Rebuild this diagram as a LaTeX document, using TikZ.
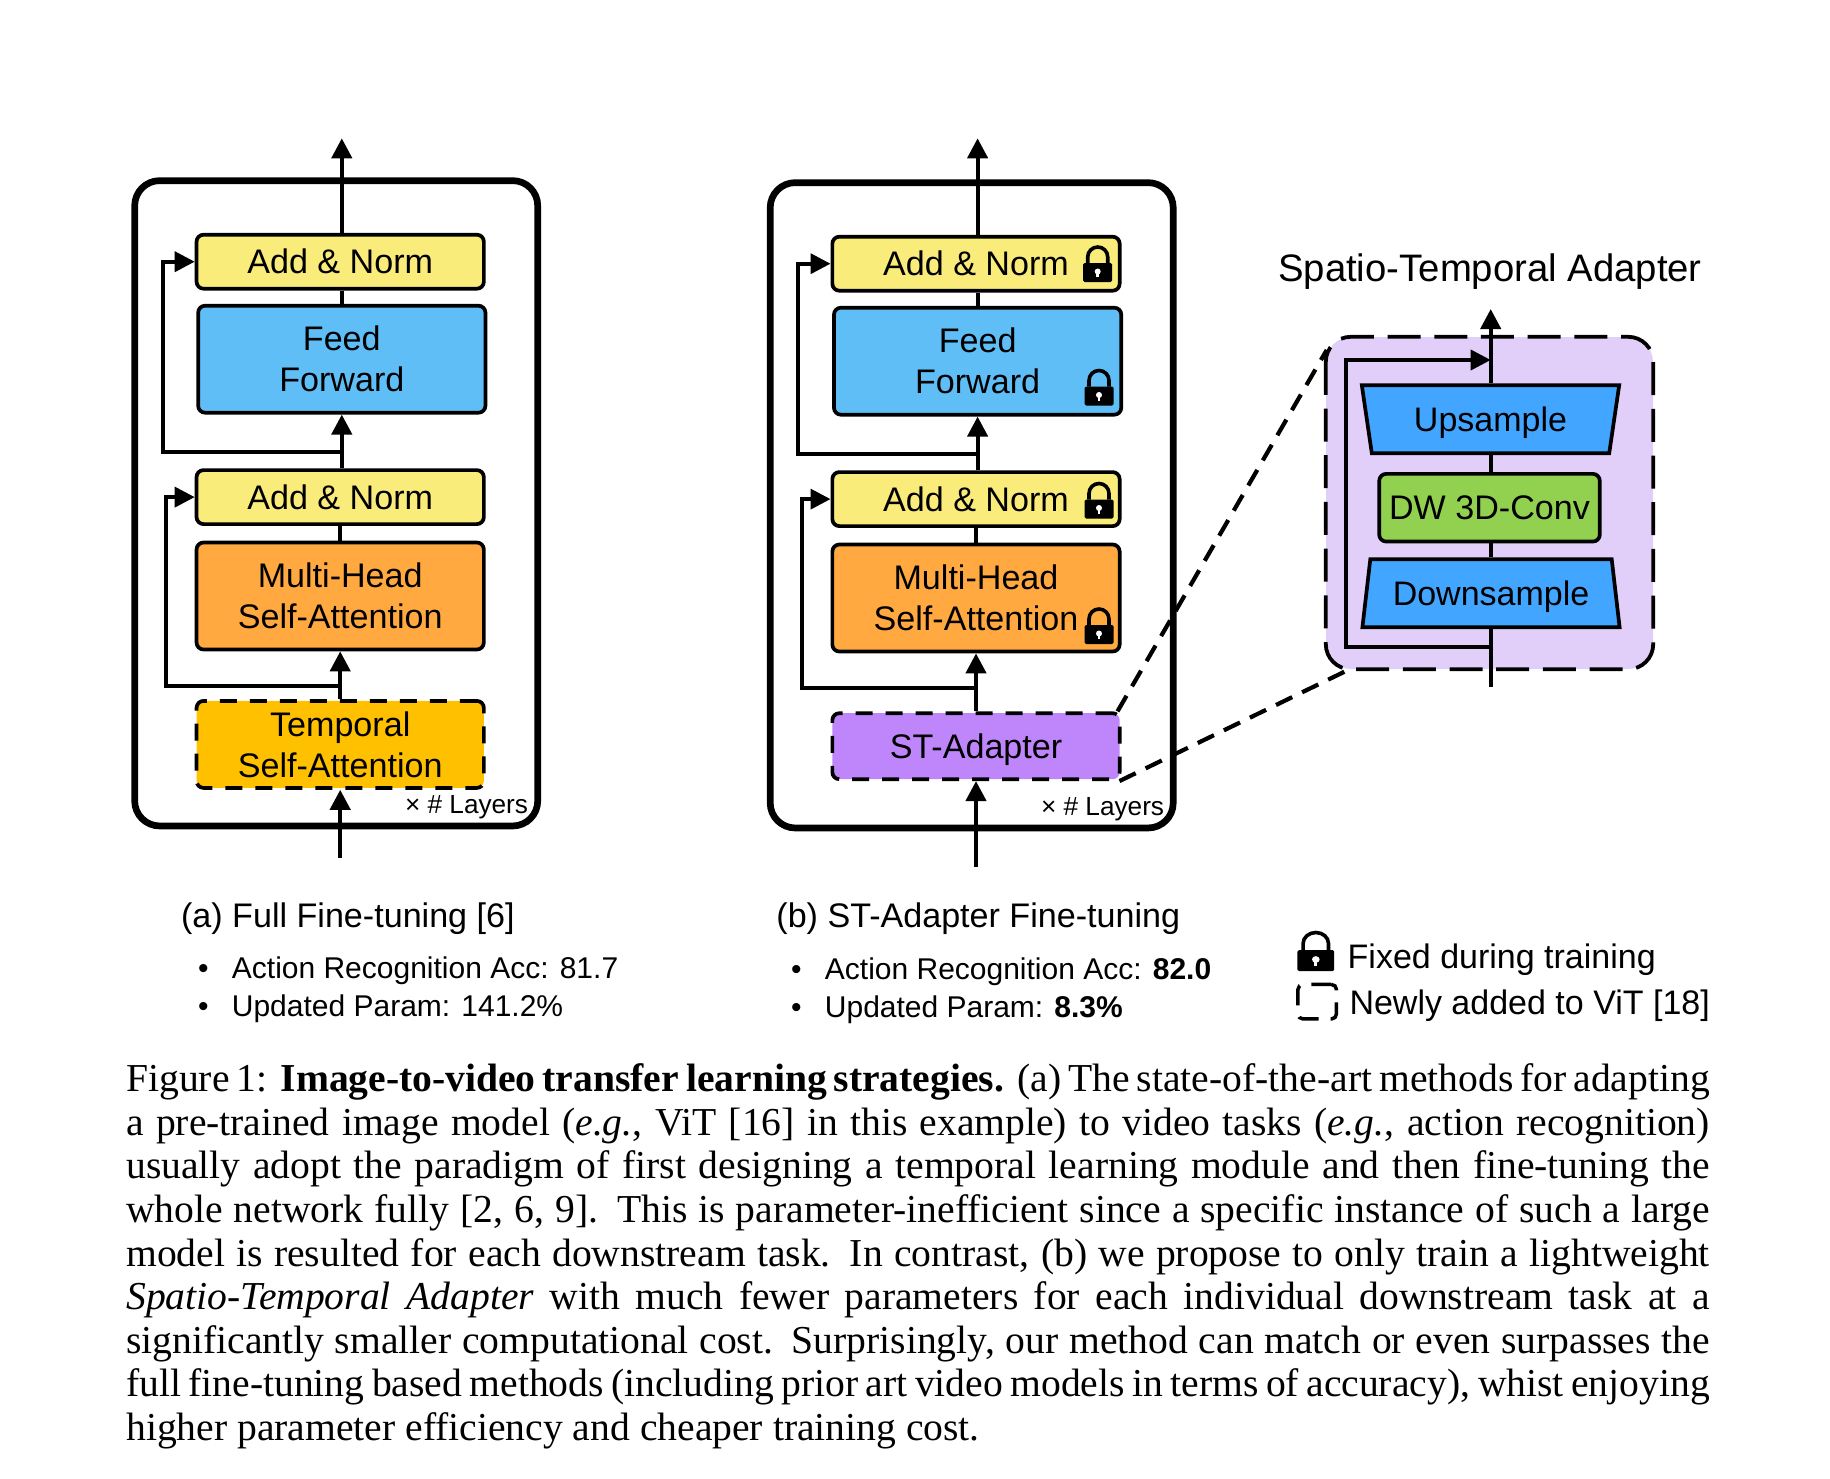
\documentclass[tikz,border=0pt]{standalone}
\usepackage{fontspec}
\setmainfont{Liberation Serif}
\setsansfont{Liberation Sans}
\usetikzlibrary{positioning,arrows.meta,shapes.geometric}
\definecolor{normyellow}{HTML}{F9EC7A}
\definecolor{feedblue}{HTML}{5FBEF6}
\definecolor{attnorange}{HTML}{FFA940}
\definecolor{tempgold}{HTML}{FFC000}
\definecolor{stpurple}{HTML}{BF85FB}
\definecolor{adaptbg}{HTML}{E1CFF9}
\definecolor{sampleblue}{HTML}{42A5FF}
\definecolor{convgreen}{HTML}{92D050}
\tikzset{
  block/.style={draw, rectangle, rounded corners=7pt, line width=3.7pt, minimum width=287.3pt, align=center, inner sep=0pt,
    font=\sffamily\fontsize{34.1}{41}\selectfont},
  addnorm/.style={block, fill=normyellow, minimum height=54pt},
  feedbox/.style={block, fill=feedblue, minimum height=107pt},
  attnbox/.style={block, fill=attnorange, minimum height=107pt},
  newblock/.style={block, dash pattern=on 17pt off 13pt},
  outerbox/.style={draw, rectangle, rounded corners=25pt, line width=6.7pt, minimum width=403pt, minimum height=645.3pt},
  sample/.style={draw, trapezium, trapezium stretches=true, trapezium left angle=75, trapezium right angle=75,
    line width=3.7pt, fill=sampleblue, minimum width=258pt, minimum height=68pt, inner sep=0pt,
    text height=24pt, text depth=0pt, font=\sffamily\fontsize{34}{40}\selectfont},
  arr/.style={-{Triangle[length=20pt,width=20pt]}, line width=4.2pt},
  link/.style={line width=4.2pt},
  skiparr/.style={-{Triangle[length=20pt,width=20pt]}, line width=3.7pt},
  zoomline/.style={line width=4.2pt, dash pattern=on 18pt off 11pt},
  layers/.style={anchor=base east, inner sep=0pt, font=\sffamily\fontsize{26.2}{30}\selectfont},
  subtitle/.style={anchor=base west, inner sep=0pt, font=\sffamily\fontsize{34.1}{41}\selectfont},
  subtext/.style={anchor=base west, inner sep=0pt, font=\sffamily\fontsize{30}{37}\selectfont},
  lockicon/.pic={
    \fill[rounded corners=1.5pt] (-14.5pt,0pt) rectangle (14.5pt,19pt);
    \draw (-10pt,19pt) -- (-10pt,25pt) arc[start angle=180,end angle=0,radius=10pt] -- (10pt,19pt);
    \fill[white] (0pt,10.5pt) circle[radius=3pt];
    \fill[white] (-1.3pt,5pt) rectangle (1.3pt,10pt);
  },
}
\begin{document}
\begin{tikzpicture}[x=1pt,y=-1pt,every pic/.style={line width=3.6pt}]
\useasboundingbox (0,0) rectangle (1830,1478);
% (a) full fine-tuning
\node[outerbox] (outa) at (336.2,503.3) {};
\node[addnorm] (an1) at (340.2,261.7) {Add \& Norm};
\node[feedbox, below=13.3pt of an1, xshift=1.6pt] (ff) {Feed\\Forward};
\node[addnorm, below=53.7pt of ff, xshift=-1.6pt] (an2) {Add \& Norm};
\node[attnbox, below=14.7pt of an2] (mh) {Multi-Head\\Self-Attention};
\node[block, newblock, fill=tempgold, minimum height=87pt, below=47.7pt of mh] (temp) {Temporal\\Self-Attention};
\coordinate (topa) at (341.8,138.3);
\coordinate (bota) at (340.2,858.3);
\coordinate (m1) at (341.8,451.7);
\coordinate (m2) at (340.2,685.7);
\draw[arr] (ff.north |- an1.north) -- (topa);
\draw[link] (an1.south -| ff.north) -- (ff.north);
\draw[arr] (ff.south |- an2.north) -- (ff.south);
\draw[link] (an2.south) -- (mh.north);
\draw[arr] (temp.north) -- (mh.south);
\draw[arr] (bota) -- (temp.south);
\draw[skiparr] (m1) -- ++(-179.1,0) |- (an1.west);
\draw[skiparr] (m2) -- ++(-174.5,0) |- (an2.west);
\node[layers] (lya) at (528.3,813.3) {× \# Layers};
% (b) st-adapter fine-tuning
\node[outerbox] (outb) at (971.7,505.3) {};
\node[addnorm] (bn1) at (976,263.7) {Add \& Norm};
\node[feedbox, below=13.3pt of bn1, xshift=1.6pt] (fg) {Feed\\Forward};
\node[addnorm, below=53.7pt of fg, xshift=-1.6pt] (bn2) {Add \& Norm};
\node[attnbox, below=14.7pt of bn2] (mi) {Multi-Head\\Self-Attention};
\node[block, newblock, fill=stpurple, minimum height=66pt, text height=24pt, text depth=0pt, below=58pt of mi] (st) {ST-Adapter};
\coordinate (topb) at (977.6,138.3);
\coordinate (botb) at (976,867);
\coordinate (m3) at (977.6,453.7);
\coordinate (m4) at (976,687.7);
\draw[arr] (fg.north |- bn1.north) -- (topb);
\draw[link] (bn1.south -| fg.north) -- (fg.north);
\draw[arr] (fg.south |- bn2.north) -- (fg.south);
\draw[link] (bn2.south) -- (mi.north);
\draw[arr] (st.north) -- (mi.south);
\draw[arr] (botb) -- (st.south);
\draw[skiparr] (m3) -- ++(-179.9,0) |- (bn1.west);
\draw[skiparr] (m4) -- ++(-174.3,0) |- (bn2.west);
\node[layers] (lyb) at (1164.3,815.3) {× \# Layers};
\pic at (1097.7,282) {lockicon};
\pic at (1099,405.5) {lockicon};
\pic at (1099,518.5) {lockicon};
\pic at (1099,644) {lockicon};
% adapter detail
\node[draw=none, fill=adaptbg, rectangle, rounded corners=25pt, minimum width=327pt, minimum height=332pt] (ad) at (1489.5,503) {};
\draw[line width=3.8pt, rounded corners=25pt, dash pattern=on 33pt off 13.7pt] (ad.north west) rectangle (ad.south east);
\node[sample, shape border rotate=180] (up) at (1490.5,419.2) {Upsample};
\node[block, fill=convgreen, minimum width=220.6pt, minimum height=67.7pt] (dw) at (1489.5,507.7) {DW 3D-Conv};
\node[sample] (down) at (1491,593.2) {Downsample};
\coordinate (topc) at (1490.7,309);
\coordinate (botc) at (1490.7,687);
\coordinate (m5) at (1490.7,646.7);
\coordinate (m6) at (1490.7,360);
\coordinate (adtop) at (1326.7,350);
\coordinate (adbot) at (1348,670);
\draw[link] (botc) -- (down.south -| botc);
\draw[link] (down.north -| botc) -- (dw.south -| botc);
\draw[link] (dw.north -| botc) -- (up.south -| botc);
\draw[arr] (up.north -| botc) -- (topc);
\draw[skiparr] (m5) -- ++(-144.7,0) |- (m6);
\draw[zoomline] ([xshift=-4pt]st.north east) -- (adtop);
\draw[zoomline] ([xshift=-2pt]st.south east) -- (adbot);
\node[anchor=base, inner sep=0pt, font=\sffamily\fontsize{38.3}{45}\selectfont] (adtitle) at (1490,281) {Spatio-Temporal Adapter};
% captions of the panels
\node[subtitle] (capa) at (180.9,927) {(a) Full Fine-tuning [6]};
\node[subtext] (a1) at (231.7,978) {Action Recognition Acc: 81.7};
\node[subtext] (a2) at (231.7,1016) {Updated Param: 141.2\%};
\node[subtext, left=23pt of a1.base west, anchor=base east] (ba1) {•};
\node[subtext, left=23pt of a2.base west, anchor=base east] (ba2) {•};
\node[subtitle] (capb) at (776.2,927) {(b) ST-Adapter Fine-tuning};
\node[subtext] (b1) at (824.7,979) {Action Recognition Acc: \textbf{82.0}};
\node[subtext] (b2) at (824.7,1017) {Updated Param: \textbf{8.3\%}};
\node[subtext, left=23pt of b1.base west, anchor=base east] (bb1) {•};
\node[subtext, left=23pt of b2.base west, anchor=base east] (bb2) {•};
% legend
\pic[xscale=1.27, yscale=1.1, line width=4.6pt] at (1315.8,971) {lockicon};
\node[subtitle, font=\sffamily\fontsize{34}{41}\selectfont] (fixed) at (1347.5,968.3) {Fixed during training};
\node[draw, rectangle, rounded corners=5pt, line width=3.5pt, dash pattern=on 20pt off 12pt, minimum width=38.5pt, minimum height=34.5pt, inner sep=0pt] (newb) at (1317.2,1001.7) {};
\node[subtitle, font=\sffamily\fontsize{34}{41}\selectfont] (newly) at (1349.3,1014) {Newly added to ViT [18]};
% figure caption
\node[anchor=north west, inner sep=0pt, text width=1583.6pt, align=justify,
  font=\rmfamily\fontsize{39.6}{43.65}\selectfont] (fig) at (126,1063.3) {\hyphenpenalty=10000 \tolerance=9999
\spaceskip=.25em plus .12em minus .13em \xspaceskip=.45em plus .1em minus .2em
Figure 1: \textbf{Image-to-video transfer learning strategies.} (a) The state-of-the-art methods for adapting\linebreak
a pre-trained image model (\textit{e.g.}, ViT [16] in this example) to video tasks (\textit{e.g.}, action recognition)\linebreak
usually adopt the paradigm of first designing a temporal learning module and then fine-tuning the\linebreak
whole network fully [2, 6, 9]. This is parameter-inefficient since a specific instance of such a large\linebreak
model is resulted for each downstream task. In contrast, (b) we propose to only train a lightweight\linebreak
\textit{Spatio-Temporal Adapter} with much fewer parameters for each individual downstream task at a\linebreak
significantly smaller computational cost. Surprisingly, our method can match or even surpasses the\linebreak
full fine-tuning based methods (including prior art video models in terms of accuracy), whist enjoying\linebreak
higher parameter efficiency and cheaper training cost.};
\end{tikzpicture}
\end{document}
